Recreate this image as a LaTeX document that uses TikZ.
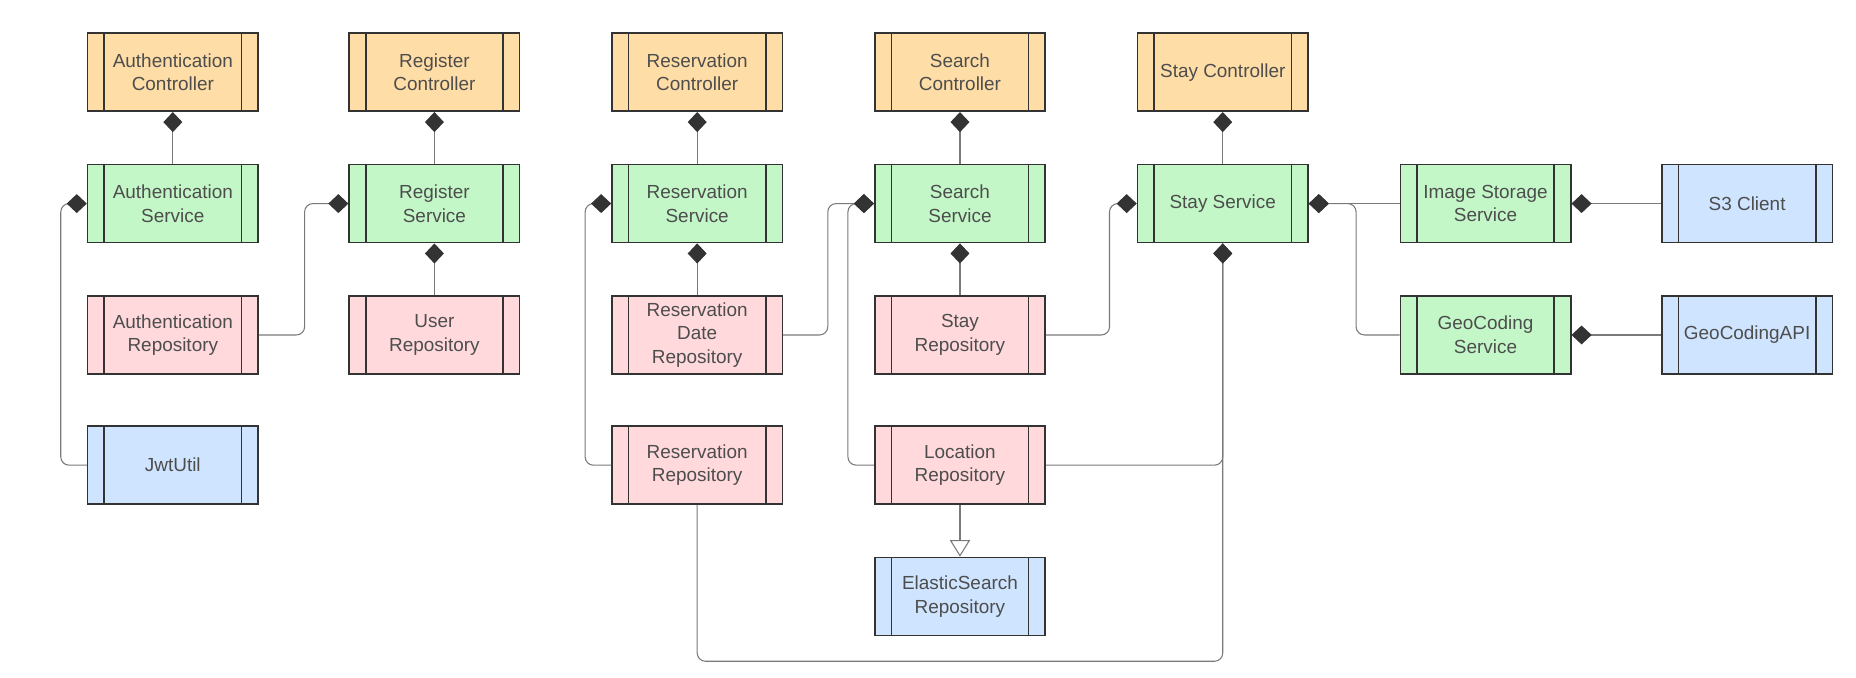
\documentclass[tikz,border=0pt]{standalone}
\usepackage{fontspec}
\setmainfont{Liberation Sans}
\usetikzlibrary{arrows.meta}
\definecolor{ctrlfill}{HTML}{FFDDA6}
\definecolor{svcfill}{HTML}{C3F7C8}
\definecolor{repofill}{HTML}{FFD9DB}
\definecolor{utilfill}{HTML}{CFE4FF}
\definecolor{edge}{HTML}{333333}
\definecolor{txt}{HTML}{4D4D4D}
\definecolor{conn}{HTML}{7A7A7A}
\begin{document}
\begin{tikzpicture}[x=1pt,y=-1pt]

\tikzset{box/.style={draw=edge, line width=1.3pt, minimum width=144pt, minimum height=66pt, inner sep=0pt, align=center, text=txt, font=\fontsize{16}{20}\selectfont,
  path picture={\draw[edge,line width=1.3pt] ([xshift=14pt]path picture bounding box.north west)--([xshift=14pt]path picture bounding box.south west)
    ([xshift=-14pt]path picture bounding box.north east)--([xshift=-14pt]path picture bounding box.south east);}}};
\tikzset{ctrl/.style={box, fill=ctrlfill}, svc/.style={box, fill=svcfill}, repo/.style={box, fill=repofill}, util/.style={box, fill=utilfill}};
\tikzset{comp/.style={draw=conn, line width=0.9pt, rounded corners=7pt, arrows={Diamond[length=17pt,width=16pt,color=edge,fill=edge]-}}};
\tikzset{gen/.style={draw=conn, line width=0.9pt, arrows={-Triangle[open,length=14pt,width=17pt,fill=white]}}};

\useasboundingbox (0,0) rectangle (1568,572);

\node[ctrl] (authc) at (146,61) {Authentication\\Controller};
\node[ctrl] (regc) at (367,61) {Register\\Controller};
\node[ctrl] (resc) at (589,61) {Reservation\\Controller};
\node[ctrl] (srchc) at (811,61) {Search\\Controller};
\node[ctrl] (stayc) at (1033,61) {Stay Controller};

\node[svc] (auths) at (146,172) {Authentication\\Service};
\node[svc] (regs) at (367,172) {Register\\Service};
\node[svc] (ress) at (589,172) {Reservation\\Service};
\node[svc] (srchs) at (811,172) {Search\\Service};
\node[svc] (stays) at (1033,172) {Stay Service};
\node[svc] (imgs) at (1255,172) {Image Storage\\Service};
\node[util] (s3) at (1476,172) {S3 Client};

\node[repo] (authr) at (146,283) {Authentication\\Repository};
\node[repo] (userr) at (367,283) {User\\Repository};
\node[repo] (resdr) at (589,283) {Reservation\\Date\\Repository};
\node[repo] (stayr) at (811,283) {Stay\\Repository};
\node[svc] (geos) at (1255,283) {GeoCoding\\Service};
\node[util] (geoapi) at (1476,283) {GeoCodingAPI};

\node[util] (jwt) at (146,393) {JwtUtil};
\node[repo] (resr) at (589,393) {Reservation\\Repository};
\node[repo] (locr) at (811,393) {Location\\Repository};

\node[util] (esr) at (811,504) {ElasticSearch\\Repository};

\draw[comp] (authc.south)--(auths.north);
\draw[comp] (regc.south)--(regs.north);
\draw[comp] (resc.south)--(ress.north);
\draw[comp] (srchc.south)--(srchs.north);
\draw[comp] (stayc.south)--(stays.north);

\draw[comp] (auths.west)--++(-22,0)|-(jwt.west);
\draw[comp] (regs.west)--++(-37,0)|-(authr.east);
\draw[comp] (regs.south)--(userr.north);
\draw[comp] (ress.west)--++(-22,0)|-(resr.west);
\draw[comp] (ress.south)--(resdr.north);
\draw[comp] (srchs.west)--++(-39,0)|-(resdr.east);
\draw[comp] (srchs.west)--++(-22,0)|-(locr.west);
\draw[comp] (srchs.south)--(stayr.north);
\draw[comp] (stays.west)--++(-23,0)|-(stayr.east);
\draw[comp] (stays.south)|-(locr.east);
\draw[comp] (stays.south)--++(0,353)-|(resr.south);
\draw[comp] (stays.east)--(imgs.west);
\draw[comp] (stays.east)--++(40,0)|-(geos.west);
\draw[comp] (imgs.east)--(s3.west);
\draw[comp] (geos.east)--(geoapi.west);

\draw[gen] (locr.south)--(esr.north);

\end{tikzpicture}
\end{document}
